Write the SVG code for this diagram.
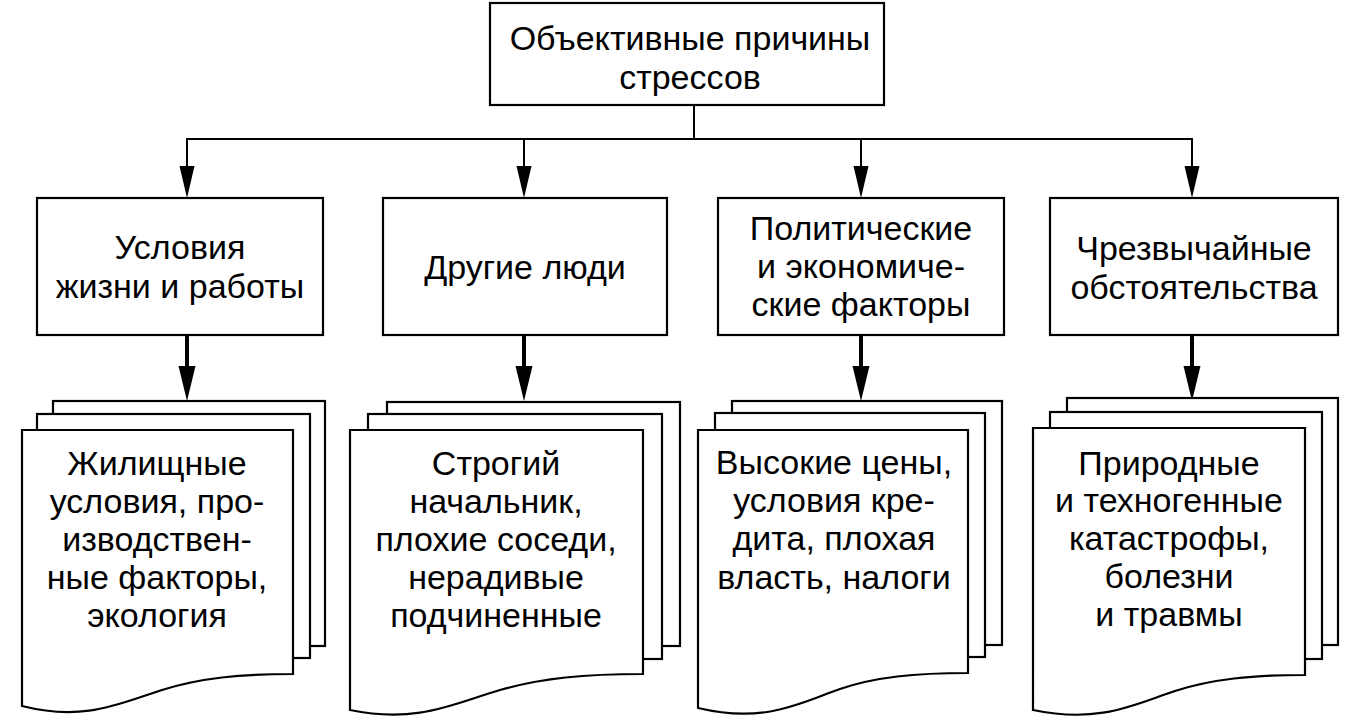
<svg xmlns="http://www.w3.org/2000/svg" width="1361" height="726" viewBox="0 0 1361 726">
<style>
.box{fill:#fff;stroke:#000;stroke-width:2.2}
.sheet{fill:#fff;stroke:#000;stroke-width:2.2;stroke-linejoin:miter}
.t{font-family:"Liberation Sans",Arial,sans-serif;font-size:34px;fill:#000;text-anchor:middle}
.ln{stroke:#000;stroke-width:2;fill:none}
.thick{stroke:#000;stroke-width:4;fill:none}
.head{fill:#000}
</style>
<rect width="1361" height="726" fill="#fff"/>

<g id="connectors">
  <line class="ln" x1="694" y1="105" x2="694" y2="139"/>
  <line class="ln" x1="186" y1="139" x2="1193" y2="139"/>
  <line class="ln" x1="187" y1="139" x2="187" y2="170"/>
  <polygon class="head" points="179.5,166 194.5,166 187,198"/>
  <line class="ln" x1="524" y1="139" x2="524" y2="170"/>
  <polygon class="head" points="516.5,166 531.5,166 524,198"/>
  <line class="ln" x1="861" y1="139" x2="861" y2="170"/>
  <polygon class="head" points="853.5,166 868.5,166 861,198"/>
  <line class="ln" x1="1192" y1="139" x2="1192" y2="170"/>
  <polygon class="head" points="1184.5,166 1199.5,166 1192,198"/>

  <line class="thick" x1="187" y1="335" x2="187" y2="370"/>
  <polygon class="head" points="178.5,366 195.5,366 187,401"/>
  <line class="thick" x1="524" y1="335" x2="524" y2="370"/>
  <polygon class="head" points="515.5,366 532.5,366 524,401"/>
  <line class="thick" x1="861" y1="335" x2="861" y2="370"/>
  <polygon class="head" points="852.5,366 869.5,366 861,401"/>
  <line class="thick" x1="1192" y1="335" x2="1192" y2="370"/>
  <polygon class="head" points="1183.5,366 1200.5,366 1192,401"/>
</g>

<g id="root">
  <rect class="box" x="490" y="3" width="394" height="102"/>
  <text class="t" x="690" y="50">Объективные причины</text>
  <text class="t" x="690" y="89">стрессов</text>
</g>

<g id="n1">
  <rect class="box" x="37" y="198" width="286" height="137"/>
  <text class="t" x="180" y="259">Условия</text>
  <text class="t" x="180" y="298">жизни и работы</text>
</g>
<g id="n2">
  <rect class="box" x="383" y="198" width="284" height="137"/>
  <text class="t" x="525" y="279">Другие люди</text>
</g>
<g id="n3">
  <rect class="box" x="718" y="198" width="286" height="137"/>
  <text class="t" x="861" y="240">Политические</text>
  <text class="t" x="861" y="278">и экономиче-</text>
  <text class="t" x="861" y="316">ские факторы</text>
</g>
<g id="n4">
  <rect class="box" x="1050" y="198" width="288" height="137"/>
  <text class="t" x="1194" y="260">Чрезвычайные</text>
  <text class="t" x="1194" y="299">обстоятельства</text>
</g>

<g id="d1">
  <rect class="sheet" x="53" y="401" width="272" height="245"/>
  <rect class="sheet" x="37" y="414" width="273" height="244"/>
  <path class="sheet" d="M22,430 H293 V674 C240,674 200,678 162,690 C120,703 85,722 22,706 Z"/>
  <text class="t" x="157" y="475">Жилищные</text>
  <text class="t" x="157" y="513">условия, про-</text>
  <text class="t" x="157" y="551">изводствен-</text>
  <text class="t" x="157" y="589">ные факторы,</text>
  <text class="t" x="157" y="627">экология</text>
</g>
<g id="d2">
  <rect class="sheet" x="387" y="402" width="293" height="244"/>
  <rect class="sheet" x="368" y="414" width="294" height="245"/>
  <path class="sheet" d="M350,430 H643 V674 C585,674 542,678 500,690 C455,703 418,724 350,710 Z"/>
  <text class="t" x="496" y="475">Строгий</text>
  <text class="t" x="496" y="513">начальник,</text>
  <text class="t" x="496" y="551">плохие соседи,</text>
  <text class="t" x="496" y="589">нерадивые</text>
  <text class="t" x="496" y="627">подчиненные</text>
</g>
<g id="d3">
  <rect class="sheet" x="732" y="401" width="270" height="244"/>
  <rect class="sheet" x="715" y="413" width="270" height="244"/>
  <path class="sheet" d="M698,430 H968 V673 C915,673 875,677 840,689 C800,703 765,724 698,708 Z"/>
  <text class="t" x="834" y="474">Высокие цены,</text>
  <text class="t" x="834" y="512">условия кре-</text>
  <text class="t" x="834" y="550">дита, плохая</text>
  <text class="t" x="834" y="589">власть, налоги</text>
</g>
<g id="d4">
  <rect class="sheet" x="1067" y="398" width="271" height="247"/>
  <rect class="sheet" x="1050" y="412" width="272" height="247"/>
  <path class="sheet" d="M1033,428 H1305 V675 C1252,675 1212,679 1175,691 C1135,704 1100,724 1033,710 Z"/>
  <text class="t" x="1169" y="475">Природные</text>
  <text class="t" x="1169" y="512">и техногенные</text>
  <text class="t" x="1169" y="550">катастрофы,</text>
  <text class="t" x="1169" y="588">болезни</text>
  <text class="t" x="1169" y="626">и травмы</text>
</g>
</svg>
